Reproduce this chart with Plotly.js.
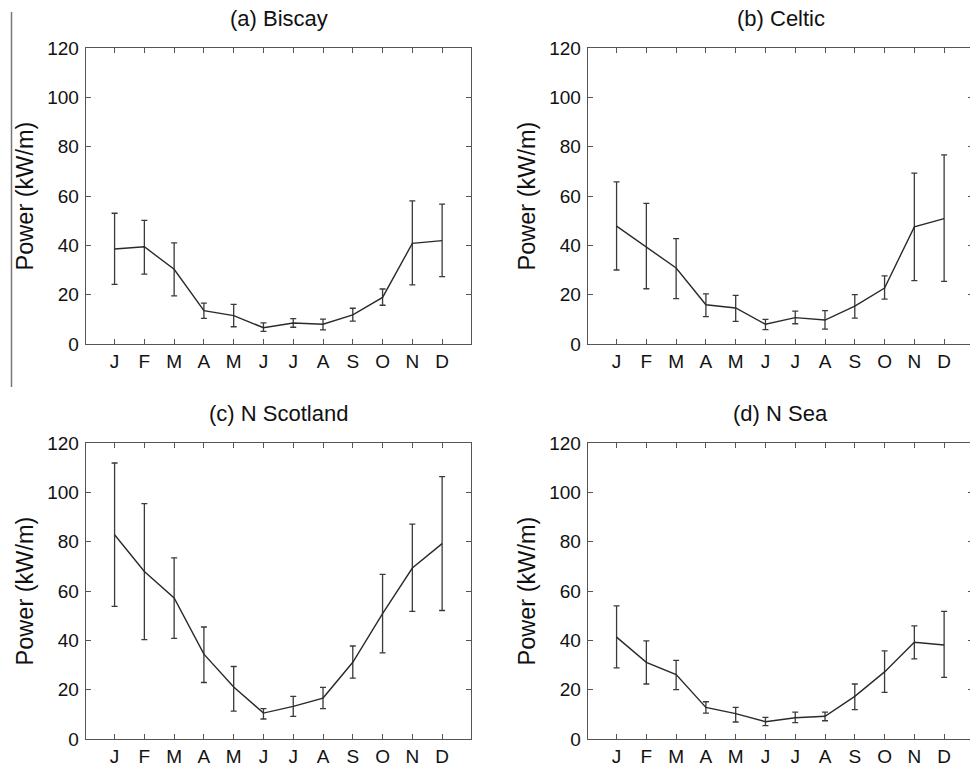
<!DOCTYPE html>
<html>
<head>
<meta charset="utf-8">
<script src="https://cdn.plot.ly/plotly-3.0.1.min.js"></script>
<style>
html, body { margin: 0; padding: 0; overflow: hidden; background: #fff; }
#chart { width: 985px; height: 768px; }
</style>
</head>
<body>
<div id="chart"></div>
<script>
// Month labels (x-axis tick text)
const months = ["J", "F", "M", "A", "M", "J", "J", "A", "S", "O", "N", "D"];
const panelTitles = ["(a) Biscay", "(b) Celtic", "(c) N Scotland", "(d) N Sea"];
const yTickVals = [0, 20, 40, 60, 80, 100, 120];

// (a) Biscay
const biscayMean  = [38.5, 39.4, 30.3, 13.5, 11.5, 6.6, 8.5, 8.0, 11.8, 18.9, 40.8, 41.9];
const biscayUpper = [53.0, 50.1, 41.0, 16.6, 16.1, 8.6, 10.3, 10.1, 14.5, 22.3, 58.0, 56.7];
const biscayLower = [24.2, 28.3, 19.5, 10.4, 7.0, 5.1, 6.8, 5.7, 9.3, 15.7, 24.0, 27.3];

// (b) Celtic
const celticMean  = [47.8, 39.4, 30.8, 15.9, 14.6, 8.0, 10.7, 9.7, 15.4, 22.7, 47.5, 50.8];
const celticUpper = [65.7, 57.0, 42.7, 20.3, 19.7, 10.0, 13.3, 13.5, 20.0, 27.6, 69.3, 76.7];
const celticLower = [30.0, 22.4, 18.4, 11.1, 9.2, 5.8, 8.2, 6.0, 10.5, 18.2, 25.7, 25.4];

// (c) N Scotland
const scotMean  = [82.8, 67.9, 57.2, 34.4, 21.1, 10.5, 13.2, 16.6, 31.1, 50.8, 69.3, 79.2];
const scotUpper = [111.9, 95.4, 73.4, 45.4, 29.4, 12.3, 17.3, 20.9, 37.7, 66.7, 87.1, 106.4];
const scotLower = [53.8, 40.3, 40.8, 22.9, 11.3, 8.1, 9.2, 12.3, 24.7, 34.9, 51.7, 52.1];

// (d) N Sea
const nseaMean  = [41.3, 31.1, 26.1, 12.8, 10.3, 7.0, 8.6, 9.2, 17.3, 27.2, 39.2, 38.1];
const nseaUpper = [54.0, 39.8, 31.9, 15.1, 12.8, 8.8, 10.9, 10.9, 22.3, 35.7, 45.9, 51.7];
const nseaLower = [28.8, 22.3, 20.0, 10.5, 6.9, 5.4, 6.6, 7.4, 11.9, 18.9, 32.5, 25.0];

const panels = [
  {mean: biscayMean, upper: biscayUpper, lower: biscayLower},
  {mean: celticMean, upper: celticUpper, lower: celticLower},
  {mean: scotMean, upper: scotUpper, lower: scotLower},
  {mean: nseaMean, upper: nseaUpper, lower: nseaLower}
];

const W = 985, H = 768;
const xPos = months.map((m, i) => i + 1);
const FONT = "Liberation Sans, Arial, Helvetica, sans-serif";
const INK = "#111";

// pixel boxes of the four plot areas
const boxes = [
  {x0: 86, x1: 471, y0: 48, y1: 344},
  {x0: 588, x1: 973, y0: 48, y1: 344},
  {x0: 86, x1: 471, y0: 443, y1: 739},
  {x0: 588, x1: 973, y0: 443, y1: 739}
];

const data = [];
const layout = {
  width: W, height: H,
  margin: {l: 0, r: 0, t: 0, b: 0},
  paper_bgcolor: "#fff", plot_bgcolor: "#fff",
  showlegend: false,
  font: {family: FONT, color: INK},
  annotations: [],
  shapes: [{
    type: "line", xref: "paper", yref: "paper",
    x0: 11.5 / W, x1: 11.5 / W, y0: 1 - 387 / H, y1: 1 - 12 / H,
    line: {color: "#777", width: 1.5}
  }]
};

panels.forEach((p, k) => {
  const n = k + 1;
  const xa = n === 1 ? "x" : "x" + n;
  const ya = n === 1 ? "y" : "y" + n;
  data.push({
    type: "scatter", mode: "lines",
    x: xPos, y: p.mean,
    xaxis: xa, yaxis: ya,
    line: {color: "#2a2a2a", width: 1.4},
    error_y: {
      type: "data", symmetric: false,
      array: p.upper.map((u, i) => u - p.mean[i]),
      arrayminus: p.mean.map((m, i) => m - p.lower[i]),
      color: "#3a3a3a", thickness: 1.3, width: 3
    },
    hoverinfo: "skip"
  });
  const b = boxes[k];
  const axCommon = {
    showline: true, linecolor: "#555", linewidth: 1.3,
    mirror: "ticks", ticks: "inside", ticklen: 5, tickwidth: 1,
    tickcolor: "#555", showgrid: false, zeroline: false,
    tickfont: {family: FONT, size: 19, color: INK}
  };
  layout["xaxis" + (n === 1 ? "" : n)] = Object.assign({}, axCommon, {
    domain: [b.x0 / W, b.x1 / W], anchor: ya,
    range: [0.04, 12.97],
    tickmode: "array", tickvals: xPos, ticktext: months
  });
  layout["yaxis" + (n === 1 ? "" : n)] = Object.assign({}, axCommon, {
    domain: [1 - b.y1 / H, 1 - b.y0 / H], anchor: xa,
    range: [0, 120], tickmode: "array", tickvals: yTickVals,
    ticklabelstandoff: 2,
    title: {text: "Power (kW/m)", font: {family: FONT, size: 23.5, color: INK}, standoff: 7}
  });
  layout.annotations.push({
    text: panelTitles[k], xref: "paper", yref: "paper",
    x: ((b.x0 + b.x1) / 2) / W, y: 1 - (b.y0 - 30) / H,
    xanchor: "center", yanchor: "middle", showarrow: false,
    font: {family: FONT, size: 22, color: INK}
  });
});

Plotly.newPlot("chart", data, layout, {staticPlot: true, displayModeBar: false});
</script>
</body>
</html>
